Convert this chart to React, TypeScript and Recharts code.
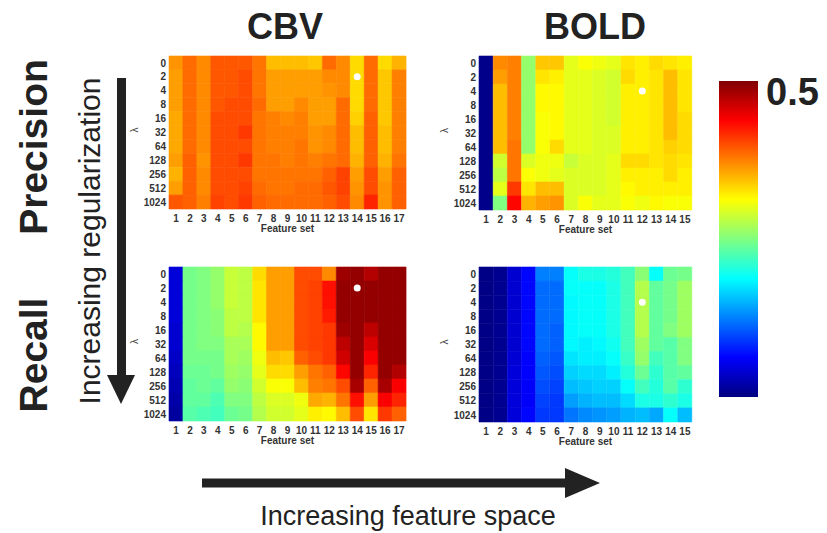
import { ComposedChart, BarChart, Bar, Cell, XAxis, YAxis, ReferenceDot } from "recharts";

// regularization strengths (rows, top to bottom)
const LAMBDA = ["0", "2", "4", "8", "16", "32", "64", "128", "256", "512", "1024"];
const CBV_SETS = [1, 2, 3, 4, 5, 6, 7, 8, 9, 10, 11, 12, 13, 14, 15, 16, 17];
const BOLD_SETS = [1, 2, 3, 4, 5, 6, 7, 8, 9, 10, 11, 12, 13, 14, 15];

// one line per feature set, values for each lambda (0 .. 1024)
const CBV_PRECISION = [
  [0.365, 0.36, 0.36, 0.36, 0.355, 0.355, 0.355, 0.36, 0.35, 0.36, 0.395],
  [0.385, 0.385, 0.385, 0.385, 0.385, 0.385, 0.385, 0.39, 0.39, 0.39, 0.39],
  [0.37, 0.37, 0.37, 0.37, 0.37, 0.37, 0.37, 0.365, 0.37, 0.37, 0.375],
  [0.395, 0.395, 0.395, 0.395, 0.4, 0.4, 0.4, 0.4, 0.4, 0.4, 0.405],
  [0.395, 0.395, 0.395, 0.4, 0.4, 0.4, 0.4, 0.4, 0.4, 0.4, 0.4],
  [0.395, 0.4, 0.4, 0.4, 0.4, 0.41, 0.4, 0.41, 0.4, 0.405, 0.41],
  [0.38, 0.38, 0.38, 0.385, 0.38, 0.38, 0.38, 0.38, 0.38, 0.385, 0.39],
  [0.345, 0.36, 0.36, 0.36, 0.375, 0.375, 0.375, 0.38, 0.38, 0.38, 0.385],
  [0.345, 0.36, 0.36, 0.36, 0.37, 0.375, 0.375, 0.375, 0.38, 0.38, 0.385],
  [0.345, 0.36, 0.36, 0.37, 0.375, 0.375, 0.38, 0.38, 0.38, 0.385, 0.385],
  [0.34, 0.36, 0.36, 0.36, 0.36, 0.365, 0.365, 0.375, 0.38, 0.385, 0.385],
  [0.385, 0.37, 0.365, 0.36, 0.36, 0.37, 0.37, 0.38, 0.39, 0.395, 0.39],
  [0.37, 0.37, 0.37, 0.385, 0.385, 0.385, 0.385, 0.385, 0.405, 0.405, 0.4],
  [0.33, 0.33, 0.33, 0.33, 0.335, 0.345, 0.345, 0.35, 0.36, 0.365, 0.37],
  [0.385, 0.385, 0.385, 0.385, 0.39, 0.39, 0.39, 0.39, 0.4, 0.4, 0.42],
  [0.33, 0.34, 0.34, 0.34, 0.34, 0.345, 0.345, 0.35, 0.36, 0.365, 0.365],
  [0.35, 0.375, 0.375, 0.375, 0.375, 0.375, 0.375, 0.38, 0.39, 0.39, 0.39],
];

const BOLD_PRECISION = [
  [0.005, 0.005, 0.005, 0.005, 0.005, 0.005, 0.005, 0.005, 0.005, 0.005, 0.005],
  [0.37, 0.36, 0.345, 0.345, 0.345, 0.345, 0.345, 0.29, 0.28, 0.3, 0.25],
  [0.375, 0.375, 0.375, 0.375, 0.375, 0.375, 0.38, 0.38, 0.38, 0.41, 0.435],
  [0.26, 0.26, 0.26, 0.26, 0.26, 0.26, 0.26, 0.295, 0.31, 0.325, 0.35],
  [0.34, 0.325, 0.315, 0.315, 0.31, 0.31, 0.31, 0.305, 0.305, 0.345, 0.36],
  [0.34, 0.32, 0.315, 0.315, 0.315, 0.315, 0.33, 0.305, 0.3, 0.345, 0.365],
  [0.3, 0.3, 0.3, 0.3, 0.3, 0.3, 0.3, 0.285, 0.295, 0.295, 0.295],
  [0.31, 0.3, 0.3, 0.3, 0.3, 0.3, 0.3, 0.295, 0.295, 0.295, 0.31],
  [0.305, 0.295, 0.295, 0.295, 0.295, 0.295, 0.295, 0.295, 0.295, 0.295, 0.3],
  [0.3, 0.29, 0.29, 0.29, 0.29, 0.295, 0.295, 0.3, 0.3, 0.3, 0.3],
  [0.325, 0.33, 0.32, 0.32, 0.32, 0.32, 0.32, 0.33, 0.32, 0.315, 0.31],
  [0.32, 0.32, 0.32, 0.32, 0.32, 0.32, 0.32, 0.33, 0.32, 0.32, 0.305],
  [0.33, 0.325, 0.325, 0.325, 0.325, 0.325, 0.325, 0.325, 0.32, 0.32, 0.315],
  [0.325, 0.345, 0.345, 0.345, 0.345, 0.345, 0.335, 0.33, 0.33, 0.32, 0.31],
  [0.32, 0.325, 0.325, 0.325, 0.33, 0.33, 0.33, 0.325, 0.32, 0.32, 0.31],
];

const CBV_RECALL = [
  [0.045, 0.045, 0.045, 0.045, 0.04, 0.04, 0.035, 0.03, 0.025, 0.02, 0.015],
  [0.245, 0.245, 0.245, 0.245, 0.245, 0.245, 0.245, 0.24, 0.235, 0.235, 0.23],
  [0.25, 0.25, 0.25, 0.25, 0.25, 0.25, 0.245, 0.24, 0.24, 0.235, 0.225],
  [0.26, 0.26, 0.26, 0.255, 0.255, 0.25, 0.245, 0.245, 0.235, 0.225, 0.22],
  [0.285, 0.285, 0.285, 0.28, 0.28, 0.27, 0.27, 0.265, 0.26, 0.25, 0.24],
  [0.28, 0.28, 0.28, 0.28, 0.275, 0.27, 0.265, 0.26, 0.255, 0.25, 0.245],
  [0.33, 0.325, 0.325, 0.325, 0.315, 0.315, 0.305, 0.3, 0.29, 0.28, 0.275],
  [0.36, 0.36, 0.36, 0.36, 0.36, 0.36, 0.345, 0.33, 0.31, 0.295, 0.29],
  [0.36, 0.36, 0.36, 0.36, 0.36, 0.36, 0.34, 0.33, 0.31, 0.295, 0.29],
  [0.4, 0.4, 0.4, 0.4, 0.4, 0.4, 0.39, 0.36, 0.345, 0.305, 0.3],
  [0.4, 0.405, 0.405, 0.405, 0.405, 0.405, 0.4, 0.38, 0.375, 0.355, 0.32],
  [0.37, 0.43, 0.43, 0.425, 0.41, 0.41, 0.41, 0.39, 0.38, 0.35, 0.315],
  [0.485, 0.49, 0.49, 0.49, 0.485, 0.47, 0.46, 0.435, 0.4, 0.38, 0.345],
  [0.49, 0.49, 0.49, 0.49, 0.49, 0.49, 0.49, 0.49, 0.48, 0.43, 0.4],
  [0.475, 0.49, 0.49, 0.49, 0.47, 0.455, 0.44, 0.42, 0.39, 0.36, 0.325],
  [0.49, 0.49, 0.49, 0.49, 0.49, 0.49, 0.49, 0.49, 0.48, 0.44, 0.41],
  [0.49, 0.49, 0.49, 0.49, 0.49, 0.49, 0.49, 0.475, 0.44, 0.42, 0.39],
];

const BOLD_RECALL = [
  [0.003, 0.003, 0.003, 0.003, 0.003, 0.003, 0.003, 0.003, 0.003, 0.003, 0.003],
  [0.008, 0.008, 0.008, 0.008, 0.008, 0.008, 0.008, 0.008, 0.008, 0.008, 0.008],
  [0.04, 0.04, 0.04, 0.04, 0.04, 0.04, 0.042, 0.045, 0.045, 0.045, 0.045],
  [0.065, 0.065, 0.065, 0.065, 0.065, 0.065, 0.062, 0.062, 0.06, 0.06, 0.065],
  [0.125, 0.115, 0.115, 0.115, 0.115, 0.115, 0.11, 0.105, 0.1, 0.095, 0.09],
  [0.125, 0.115, 0.115, 0.115, 0.11, 0.11, 0.105, 0.1, 0.095, 0.09, 0.09],
  [0.19, 0.19, 0.185, 0.185, 0.185, 0.185, 0.175, 0.165, 0.155, 0.14, 0.12],
  [0.2, 0.19, 0.19, 0.19, 0.19, 0.18, 0.18, 0.17, 0.16, 0.15, 0.13],
  [0.2, 0.19, 0.19, 0.19, 0.19, 0.185, 0.18, 0.17, 0.165, 0.155, 0.135],
  [0.205, 0.2, 0.2, 0.2, 0.2, 0.195, 0.19, 0.18, 0.165, 0.155, 0.14],
  [0.22, 0.22, 0.22, 0.22, 0.22, 0.22, 0.215, 0.205, 0.19, 0.17, 0.15],
  [0.255, 0.275, 0.275, 0.275, 0.275, 0.265, 0.26, 0.24, 0.22, 0.2, 0.155],
  [0.19, 0.235, 0.235, 0.235, 0.235, 0.235, 0.22, 0.21, 0.205, 0.2, 0.145],
  [0.24, 0.245, 0.245, 0.245, 0.25, 0.23, 0.23, 0.23, 0.23, 0.21, 0.19],
  [0.245, 0.265, 0.265, 0.265, 0.265, 0.25, 0.25, 0.235, 0.21, 0.2, 0.155],
];

// best (feature set, lambda) marked with a white dot
const CBV_BEST = [14, "2"] as const;
const BOLD_BEST = [12, "4"] as const;

const COLOR_MAX = 0.5;
const COLORBAR = [{ name: "scale", v: COLOR_MAX }];

const FONT = "'Liberation Sans', Arial, sans-serif";
const INK = "#222";

// matlab "jet"
function jet(v: number) {
  const t = Math.max(0, Math.min(1, v / COLOR_MAX));
  const c = (x: number) => Math.round(255 * Math.max(0, Math.min(1, x)));
  const r = c(Math.min(4 * t - 1.5, -4 * t + 4.5));
  const g = c(Math.min(4 * t - 0.5, -4 * t + 3.5));
  const b = c(Math.min(4 * t + 0.5, -4 * t + 2.5));
  return `rgb(${r},${g},${b})`;
}

const tickFont = { fontSize: 10, fontWeight: 700, fill: "#333" };

function Heatmap({
  left,
  top,
  width,
  height,
  sets,
  values,
  best,
}: {
  left: number;
  top: number;
  width: number;
  height: number;
  sets: number[];
  values: number[][];
  best: readonly [number, string];
}) {
  const data = sets.map((fs) => {
    const row: Record<string, number> = { fs };
    LAMBDA.forEach((_, i) => (row[`r${i}`] = 1));
    return row;
  });

  return (
    <div style={{ position: "absolute", left: left - 60, top: top - 6 }}>
      <ComposedChart
        width={width + 74}
        height={height + 42}
        data={data}
        margin={{ top: 6, right: 14, bottom: 6, left: 0 }}
        barCategoryGap={0}
        barGap={0}
      >
        <XAxis
          dataKey="fs"
          type="category"
          interval={0}
          axisLine={false}
          tickLine={false}
          tickSize={0}
          tickMargin={6}
          height={30}
          tick={tickFont}
          label={{ value: "Feature set", position: "insideBottom", offset: 7, ...tickFont }}
        />
        <YAxis
          type="number"
          domain={[0, LAMBDA.length]}
          reversed
          ticks={LAMBDA.map((_, i) => i + 0.5)}
          tickFormatter={(v: number) => LAMBDA[Math.floor(v)]}
          interval={0}
          axisLine={false}
          tickLine={false}
          tickSize={0}
          tickMargin={3}
          width={60}
          tick={tickFont}
          label={{ value: "λ", angle: -90, position: "insideLeft", offset: 25, fontSize: 10, fill: "#444" }}
        />
        {LAMBDA.map((_, i) => (
          <Bar key={i} dataKey={`r${i}`} stackId="cells" isAnimationActive={false}>
            {sets.map((fs, j) => (
              <Cell key={fs} fill={jet(values[j][i])} stroke={jet(values[j][i])} strokeWidth={0.6} />
            ))}
          </Bar>
        ))}
        <ReferenceDot x={best[0]} y={LAMBDA.indexOf(best[1]) + 0.5} r={3.5} fill="#fff" stroke="none" />
      </ComposedChart>
    </div>
  );
}

export default function App() {
  return (
    <div
      style={{
        position: "absolute",
        left: 0,
        top: 0,
        width: 827,
        height: 533,
        background: "#fff",
        fontFamily: FONT,
      }}
    >
      <svg width={827} height={533} style={{ position: "absolute", left: 0, top: 0 }} fontFamily={FONT}>
        <text x={285} y={39} textAnchor="middle" fontSize={36} fontWeight={700} fill={INK}>CBV</text>
        <text x={595} y={39} textAnchor="middle" fontSize={36} fontWeight={700} fill={INK}>BOLD</text>
        <text transform="translate(47,147) rotate(-90)" textAnchor="middle" fontSize={39} fontWeight={700} fill={INK}>
          Precision
        </text>
        <text transform="translate(47,355) rotate(-90)" textAnchor="middle" fontSize={39} fontWeight={700} fill={INK}>
          Recall
        </text>
        <text transform="translate(100,241) rotate(-90)" textAnchor="middle" fontSize={30} fill={INK}>
          Increasing regularization
        </text>
        {/* arrows */}
        <rect x={117} y={78} width={9} height={299} fill={INK} />
        <polygon points="107,375 135,375 121,404" fill={INK} />
        <rect x={202} y={478.5} width={365} height={9} fill={INK} />
        <polygon points="565,468 565,498 600,483" fill={INK} />
        <text x={408} y={525} textAnchor="middle" fontSize={27} fill={INK}>
          Increasing feature space
        </text>
      </svg>

      <Heatmap left={169} top={56} width={237} height={153} sets={CBV_SETS} values={CBV_PRECISION} best={CBV_BEST} />
      <Heatmap left={479} top={56} width={213} height={154} sets={BOLD_SETS} values={BOLD_PRECISION} best={BOLD_BEST} />
      <Heatmap left={169} top={267} width={237} height={154} sets={CBV_SETS} values={CBV_RECALL} best={CBV_BEST} />
      <Heatmap left={479} top={267} width={213} height={155} sets={BOLD_SETS} values={BOLD_RECALL} best={BOLD_BEST} />

      {/* colour scale */}
      <div style={{ position: "absolute", left: 700, top: 70 }}>
        <BarChart
          width={127}
          height={345}
          data={COLORBAR}
          margin={{ top: 11, right: 0, bottom: 18, left: 19 }}
          barCategoryGap={0}
        >
          <defs>
            <linearGradient id="jetScale" x1="0" y1="1" x2="0" y2="0">
              {[0, 0.125, 0.25, 0.375, 0.5, 0.625, 0.75, 0.875, 1].map((s) => (
                <stop key={s} offset={s} stopColor={jet(s * COLOR_MAX)} />
              ))}
            </linearGradient>
          </defs>
          <XAxis dataKey="name" hide />
          <YAxis
            orientation="right"
            type="number"
            domain={[0, COLOR_MAX]}
            ticks={[0, COLOR_MAX]}
            axisLine={false}
            tickLine={false}
            tickSize={0}
            tickMargin={8}
            width={69}
            tick={{ fontSize: 38, fontWeight: 700, fill: INK }}
          />
          <Bar dataKey="v" fill="url(#jetScale)" isAnimationActive={false} />
        </BarChart>
      </div>
    </div>
  );
}
